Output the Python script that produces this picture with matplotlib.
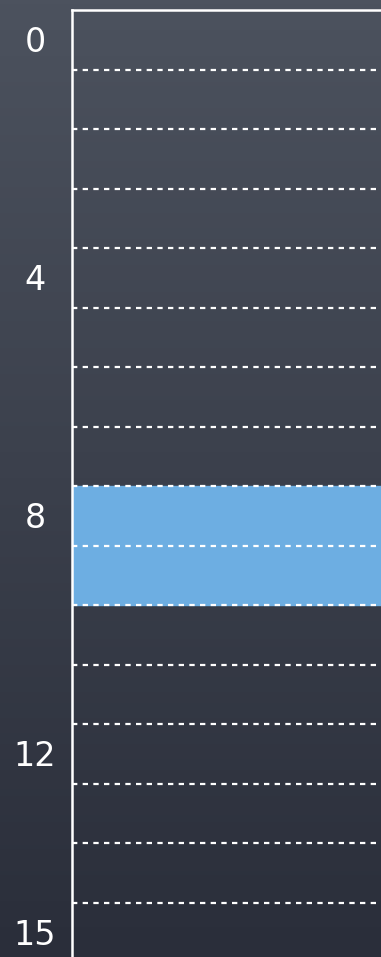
import numpy as np
import matplotlib
matplotlib.use("Agg")
import matplotlib.pyplot as plt
import matplotlib.transforms as mtransforms

# rows of the chart, top to bottom
n_rows = 16
labels = ["0", "4", "8", "12", "15"]
label_rows = [0, 4, 8, 12, 15]
highlight = [8, 9]          # highlighted rows

W, H = 381, 957
fig = plt.figure(figsize=(W / 100, H / 100), dpi=100)

# chalkboard background (vertical gradient)
bg = fig.add_axes([0, 0, 1, 1])
top = np.array([76, 82, 94]) / 255
bot = np.array([42, 46, 58]) / 255
t = np.linspace(0, 1, 256)[:, None]
grad = top[None, :] * (1 - t) + bot[None, :] * t
bg.imshow(grad[:, None, :], aspect="auto", extent=[0, 1, 0, 1])
bg.axis("off")

left = 72 / W
topy = 10 / H
ax = fig.add_axes([left, 0, 1 - left + 0.01, 1 - topy])
ax.patch.set_alpha(0)
row_h = 59.5
ax.set_ylim((H - 10) / row_h, 0)
ax.set_xlim(0, 1)

# highlighted band
ax.axhspan(min(highlight), max(highlight) + 1, color="#6daee2", zorder=1)

# dashed row separators
for i in range(1, n_rows):
    ax.axhline(i, color="white", lw=1.6, ls=(0, (2.4, 2.4)), zorder=2)

for s in ["right", "bottom"]:
    ax.spines[s].set_visible(False)
for s in ["left", "top"]:
    ax.spines[s].set_color("white")
    ax.spines[s].set_linewidth(1.8)
ax.set_xticks([])
ax.set_yticks([])

trans = mtransforms.blended_transform_factory(fig.transFigure, ax.transData)
for lab, r in zip(labels, label_rows):
    ax.text(35 / W, r + 0.55, lab, transform=trans, ha="center", va="center",
            color="white", fontsize=24, family="DejaVu Sans", clip_on=False)

fig.savefig("out.png", dpi=100)
